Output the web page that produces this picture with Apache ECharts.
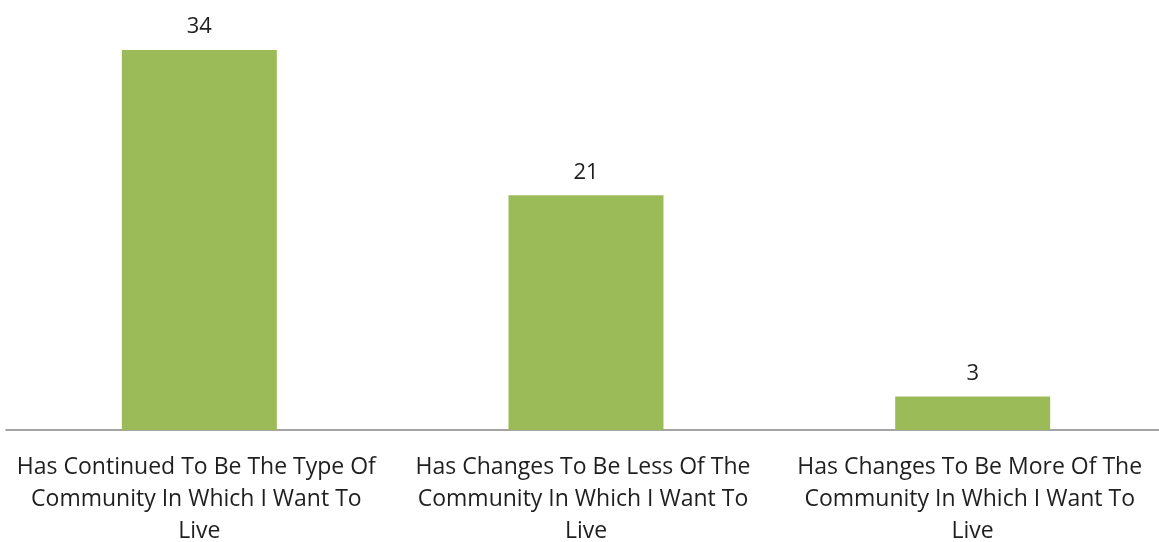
<!DOCTYPE html>
<html>
<head>
<meta charset="utf-8">
<style>
html,body{margin:0;padding:0;background:#fff;}
#chart{width:1159px;height:542px;}
</style>
<script src="https://cdn.jsdelivr.net/npm/echarts@6/dist/echarts.min.js"></script>
</head>
<body>
<div id="chart"></div>
<script>
var categories = [
  "Has Continued To Be The Type Of Community In Which I Want To Live",
  "Has Changes To Be Less Of The Community In Which I Want To Live",
  "Has Changes To Be More Of The Community In Which I Want To Live"
];
var values = [34, 21, 3];

var chart = echarts.init(document.getElementById('chart'));
chart.setOption({
  animation: false,
  grid: {left: 6, right: -7, top: 50, bottom: 112, containLabel: false, outerBoundsMode: 'none'},
  xAxis: {
    type: 'category',
    data: categories,
    axisLine: {lineStyle: {color: '#868686', width: 1.5}},
    axisTick: {show: false},
    axisLabel: {
      interval: 0,
      color: '#1f1f1f',
      fontFamily: 'Open Sans',
      fontSize: 23,
      lineHeight: 32,
      margin: 21,
      width: 368,
      overflow: 'break'
    }
  },
  yAxis: {
    type: 'value', min: 0, max: 34,
    show: false,
    splitLine: {show: false}
  },
  series: [{
    type: 'bar',
    data: values,
    barWidth: 155,
    itemStyle: {color: '#9bbb59'},
    label: {
      show: true, position: 'top', distance: 12,
      color: '#1f1f1f', fontFamily: 'Open Sans', fontSize: 22
    }
  }]
});
</script>
</body>
</html>
